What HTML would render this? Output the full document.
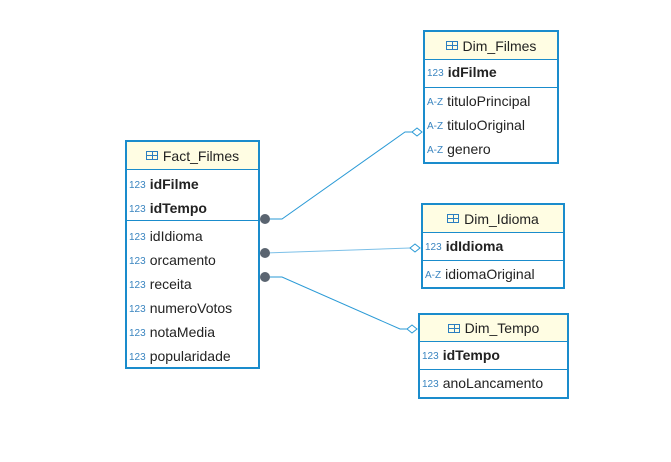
<!DOCTYPE html>
<html><head><meta charset="utf-8"><style>
body{margin:0;width:671px;height:462px;background:#fff;position:relative;overflow:hidden;font-family:"Liberation Sans",sans-serif;font-size:14px;color:#222}
.t{position:absolute;border:2px solid #1a8ccc;background:#fff;box-sizing:border-box}
.h{background:#fffde3;border-bottom:1px solid #1a8ccc;text-align:center;box-sizing:border-box;display:flex;align-items:center;justify-content:center;gap:5px;font-size:14px}
.ic{display:inline-block;width:12px;height:9px;border:1px solid #2b7ec0;box-sizing:border-box;position:relative;background:linear-gradient(#2b7ec0,#2b7ec0) 0 3px/100% 1px no-repeat,linear-gradient(#2b7ec0,#2b7ec0) 5px 0/1px 100% no-repeat}
.r{position:absolute;left:2px;height:24px;line-height:24px;white-space:nowrap}
.r i{font-style:normal;font-size:10px;color:#3a85c0;margin-right:4px;vertical-align:1px}
.r b{font-weight:bold}
.d{position:absolute;left:0;right:0;height:1px;background:#1a8ccc}
</style></head><body>
<svg width="671" height="462" style="position:absolute;left:0;top:0">
<g stroke="#2a9ad6" stroke-width="1" fill="none">
<polyline points="265,219 282,219 405,132 412,132"/>
<line x1="265" y1="253" x2="410" y2="248" stroke="#7cc0e8"/>
<polyline points="265,277 282,277 400,329 407,329"/>
<polygon points="412,132 417,128 422,132 417,136" fill="#fff"/>
<polygon points="410,248 415,244 420,248 415,252" fill="#fff"/>
<polygon points="407,329 412,325 417,329 412,333" fill="#fff"/>
</g>
<g fill="#5a6470"><circle cx="265" cy="219" r="5"/><circle cx="265" cy="253" r="5"/><circle cx="265" cy="277" r="5"/></g>
</svg>

<div class="t" style="left:125px;top:140px;width:135px;height:229px">
<div class="h" style="height:28px"><span class="ic"></span>Fact_Filmes</div>
<div class="r" style="top:30px"><i>123</i><b>idFilme</b></div>
<div class="r" style="top:54px"><i>123</i><b>idTempo</b></div>
<div class="d" style="top:78px"></div>
<div class="r" style="top:82px"><i>123</i>idIdioma</div>
<div class="r" style="top:106px"><i>123</i>orcamento</div>
<div class="r" style="top:130px"><i>123</i>receita</div>
<div class="r" style="top:154px"><i>123</i>numeroVotos</div>
<div class="r" style="top:178px"><i>123</i>notaMedia</div>
<div class="r" style="top:202px"><i>123</i>popularidade</div>
</div>

<div class="t" style="left:423px;top:30px;width:136px;height:134px">
<div class="h" style="height:28px"><span class="ic"></span>Dim_Filmes</div>
<div class="r" style="top:28px"><i>123</i><b>idFilme</b></div>
<div class="d" style="top:55px"></div>
<div class="r" style="top:57px"><i>A-Z</i>tituloPrincipal</div>
<div class="r" style="top:81px"><i>A-Z</i>tituloOriginal</div>
<div class="r" style="top:105px"><i>A-Z</i>genero</div>
</div>

<div class="t" style="left:421px;top:203px;width:144px;height:86px">
<div class="h" style="height:28px"><span class="ic"></span>Dim_Idioma</div>
<div class="r" style="top:29px"><i>123</i><b>idIdioma</b></div>
<div class="d" style="top:55px"></div>
<div class="r" style="top:57px"><i>A-Z</i>idiomaOriginal</div>
</div>

<div class="t" style="left:418px;top:313px;width:151px;height:86px">
<div class="h" style="height:27px"><span class="ic"></span>Dim_Tempo</div>
<div class="r" style="top:28px"><i>123</i><b>idTempo</b></div>
<div class="d" style="top:54px"></div>
<div class="r" style="top:56px"><i>123</i>anoLancamento</div>
</div>
</body></html>
